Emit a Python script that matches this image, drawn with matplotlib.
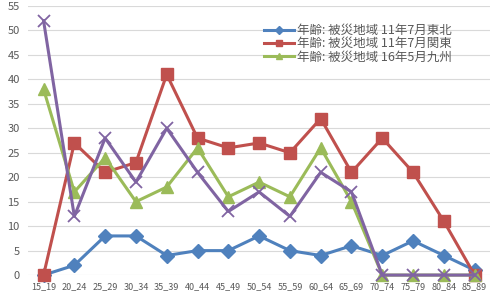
import numpy as np
import matplotlib
matplotlib.use("Agg")
import matplotlib.pyplot as plt

plt.rcParams['font.family'] = ['Noto Sans CJK JP', 'DejaVu Sans']

# age groups
categories = ['15_19', '20_24', '25_29', '30_34', '35_39', '40_44', '45_49', '50_54',
              '55_59', '60_64', '65_69', '70_74', '75_79', '80_84', '85_89']

# series values
tohoku_11_07 = [0, 2, 8, 8, 4, 5, 5, 8, 5, 4, 6, 4, 7, 4, 1]
kanto_11_07 = [0, 27, 21, 23, 41, 28, 26, 27, 25, 32, 21, 28, 21, 11, 0]
kyushu_16_05 = [38, 17, 24, 15, 18, 26, 16, 19, 16, 26, 15, 0, 0, 0, 0]
extra_series = [52, 12, 28, 19, 30, 21, 13, 17, 12, 21, 17, 0, 0, 0, 0]

labels = ['年齢: 被災地域 11年7月東北', '年齢: 被災地域 11年7月関東', '年齢: 被災地域 16年5月九州']

fig = plt.figure(figsize=(4.94, 2.99), dpi=100)
ax = fig.add_axes([0.057, 0.080, 0.935, 0.900])

x = np.arange(len(categories))
gray = '#595959'

ax.plot(x, tohoku_11_07, color='#4F81BD', lw=2.2, marker='D', ms=7, label=labels[0], clip_on=False, zorder=3)
ax.plot(x, kanto_11_07, color='#C0504D', lw=2.2, marker='s', ms=8.5, label=labels[1], clip_on=False, zorder=3)
ax.plot(x, kyushu_16_05, color='#9BBB59', lw=2.2, marker='^', ms=8.5, label=labels[2], clip_on=False, zorder=3)
ax.plot(x, extra_series, color='#8064A2', lw=2.2, marker='x', ms=9, mew=1.3, clip_on=False, zorder=4)

ax.set_xlim(-0.5, len(categories) - 0.5)
ax.set_ylim(0, 55)
ax.set_yticks(range(0, 56, 5))
ax.set_xticks(x)
ax.set_xticklabels(categories, fontsize=6.5, color=gray)
ax.tick_params(axis='y', labelsize=8, colors=gray, length=0, pad=6)
ax.tick_params(axis='x', length=0, pad=5)
ax.grid(axis='y', color='#D9D9D9', lw=0.8)
ax.set_axisbelow(True)
for s in ax.spines.values():
    s.set_visible(False)

leg = ax.legend(loc='upper right', bbox_to_anchor=(0.93, 0.955), frameon=False,
                fontsize=9, handlelength=2.4, labelspacing=0.0, handletextpad=0.2,
                markerscale=0.55, borderpad=0)
for t in leg.get_texts():
    t.set_color(gray)

fig.savefig('out.png', dpi=100)
